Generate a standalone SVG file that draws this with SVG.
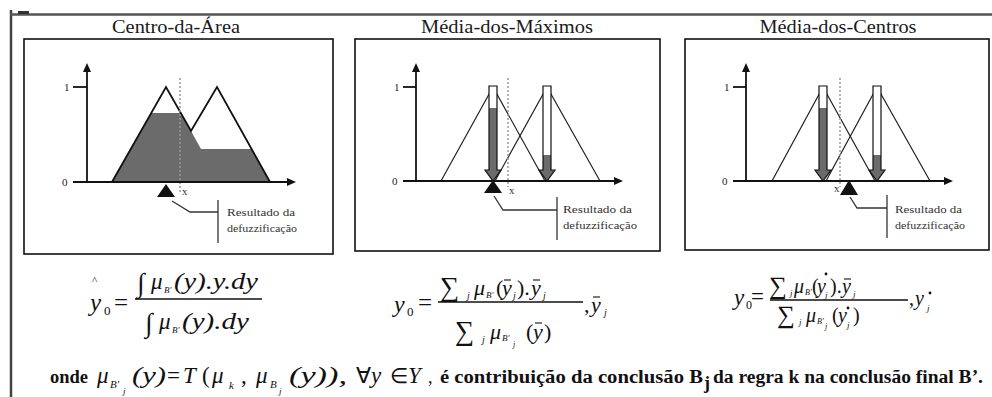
<svg xmlns="http://www.w3.org/2000/svg" width="992" height="397" viewBox="0 0 992 397">
<defs>
<style>
.ttl{font-family:"Liberation Serif","Times New Roman",serif;font-size:19px;fill:#1a1a1a}
.lbl{font-family:"Liberation Serif","Times New Roman",serif;font-size:11px;fill:#222}
.sm{font-family:"Liberation Serif","Times New Roman",serif;font-size:11px;fill:#333}
.m{font-family:"Liberation Serif","Times New Roman",serif;font-style:italic;fill:#111}
.mn{font-family:"Liberation Serif","Times New Roman",serif;fill:#111}
.b{font-family:"Liberation Serif","Times New Roman",serif;font-weight:bold;font-size:18px;fill:#111}
.box{fill:#fff;stroke:#111;stroke-width:1.6}
.ax{stroke:#111;stroke-width:1.8;fill:none}
.tri{stroke:#222;stroke-width:1.2;fill:none}
.tri1{stroke:#111;stroke-width:1.8;fill:none;stroke-linejoin:miter}
.dash{stroke:#9a9a9a;stroke-width:1.5;stroke-dasharray:2 2;fill:none}
.lead{stroke:#333;stroke-width:1.3;fill:none}
.ah{fill:#111}
.gr{fill:#6b6b6b}
.bw{fill:#fff}
.bo{fill:none;stroke:#111;stroke-width:1.2}
.ovl{stroke:#111;stroke-width:1.1}
.frac{stroke:#111;stroke-width:1.5}
</style>
</defs>

<!-- outer frame -->
<g id="frame">
<line x1="11" y1="10" x2="11" y2="397" stroke="#444" stroke-width="2.5"/>
<line x1="10" y1="14.5" x2="992" y2="14.5" stroke="#555" stroke-width="2.5"/>
<rect x="18" y="11" width="11" height="3" fill="#333"/>
</g>

<!-- Panel 1 -->
<g id="panel-centro-area">
<text class="ttl" x="176" y="33" text-anchor="middle" textLength="128" lengthAdjust="spacingAndGlyphs">Centro-da-Área</text>
<rect class="box" x="24" y="39" width="309" height="215"/>
<polygon class="gr" points="112,182 151,113 181,113 201,149 252,149 270,182"/>
<path class="tri1" d="M112,182 L166,87 L191,131 L217,87 L270,182"/>
<line class="dash" x1="180" y1="78" x2="180" y2="192"/>
<line class="ax" x1="87" y1="70" x2="87" y2="182"/>
<polygon class="ah" points="87,63 83,72 91,72"/>
<line class="ax" x1="73" y1="182" x2="288" y2="182"/>
<polygon class="ah" points="296,182 287,178 287,186"/>
<line class="ax" x1="73" y1="87" x2="87" y2="87"/>
<text class="lbl" x="64" y="91">1</text>
<text class="lbl" x="62" y="186">0</text>
<text class="sm" x="182" y="195" font-size="9">x</text>
<polygon class="ah" points="166,184 157,197 175,197"/>
<text class="sm" x="227" y="216" textLength="68" lengthAdjust="spacingAndGlyphs">Resultado da</text>
<text class="sm" x="227" y="232" textLength="70" lengthAdjust="spacingAndGlyphs">defuzzificação</text>
</g>

<!-- Panel 2 -->
<g id="panel-media-maximos">
<text class="ttl" x="507" y="33" text-anchor="middle" textLength="172" lengthAdjust="spacingAndGlyphs">Média-dos-Máximos</text>
<rect class="box" x="355" y="39" width="305" height="212"/>
<path class="tri" d="M441,181 L493,87 L545,181"/>
<path class="tri" d="M495,181 L547,87 L600,181"/>
<line class="dash" x1="508" y1="78" x2="508" y2="187"/>
<rect class="bw" x="489" y="86" width="8" height="22"/>
<path class="gr" d="M489,108 V170 H485 L493,181 L501,170 H497 V108 Z"/>
<path class="bo" d="M489,86 H497 V170 H501 L493,181 L485,170 H489 Z"/>
<rect class="bw" x="543" y="86" width="8" height="69"/>
<path class="gr" d="M543,155 V170 H539 L547,181 L555,170 H551 V155 Z"/>
<path class="bo" d="M543,86 H551 V170 H555 L547,181 L539,170 H543 Z"/>
<line class="ax" x1="416" y1="70" x2="416" y2="181"/>
<polygon class="ah" points="416,63 412,72 420,72"/>
<line class="ax" x1="403" y1="181" x2="615" y2="181"/>
<polygon class="ah" points="623,181 614,177 614,185"/>
<line class="ax" x1="403" y1="87" x2="416" y2="87"/>
<text class="lbl" x="394" y="91">1</text>
<text class="lbl" x="392" y="185">0</text>
<text class="sm" x="509" y="194" font-size="9">x</text>
<polygon class="ah" points="493,180 484,193 502,193"/>
<text class="sm" x="563" y="213" textLength="69" lengthAdjust="spacingAndGlyphs">Resultado da</text>
<text class="sm" x="563" y="229" textLength="74" lengthAdjust="spacingAndGlyphs">defuzzificação</text>
</g>

<!-- Panel 3 -->
<g id="panel-media-centros">
<text class="ttl" x="838" y="33" text-anchor="middle" textLength="157" lengthAdjust="spacingAndGlyphs">Média-dos-Centros</text>
<rect class="box" x="685" y="39" width="304" height="211"/>
<path class="tri" d="M772,181 L823,87 L875,181"/>
<path class="tri" d="M826,181 L877,87 L930,181"/>
<line class="dash" x1="840" y1="78" x2="840" y2="187"/>
<rect class="bw" x="819" y="86" width="8" height="22"/>
<path class="gr" d="M819,108 V170 H815 L823,181 L831,170 H827 V108 Z"/>
<path class="bo" d="M819,86 H827 V170 H831 L823,181 L815,170 H819 Z"/>
<rect class="bw" x="873" y="86" width="8" height="69"/>
<path class="gr" d="M873,155 V170 H869 L877,181 L885,170 H881 V155 Z"/>
<path class="bo" d="M873,86 H881 V170 H885 L877,181 L869,170 H873 Z"/>
<line class="ax" x1="746" y1="70" x2="746" y2="181"/>
<polygon class="ah" points="746,63 742,72 750,72"/>
<line class="ax" x1="733" y1="181" x2="945" y2="181"/>
<polygon class="ah" points="953,181 944,177 944,185"/>
<line class="ax" x1="733" y1="87" x2="746" y2="87"/>
<text class="lbl" x="724" y="91">1</text>
<text class="lbl" x="722" y="185">0</text>
<text class="sm" x="834" y="192" font-size="9">x</text>
<polygon class="ah" points="849,180 840,195 858,195"/>
<text class="sm" x="895" y="213" textLength="67" lengthAdjust="spacingAndGlyphs">Resultado da</text>
<text class="sm" x="895" y="229" textLength="70" lengthAdjust="spacingAndGlyphs">defuzzificação</text>
</g>

<!-- leader connectors -->
<g id="connectors">
<path class="lead" d="M172,201 L190,212 H218"/>
<line class="lead" x1="218" y1="200" x2="218" y2="243"/>
<path class="lead" d="M494,196 L503,210 H557"/>
<line class="lead" x1="557" y1="197" x2="557" y2="240"/>
<path class="lead" d="M850,197 L857,208 H887"/>
<line class="lead" x1="887" y1="195" x2="887" y2="238"/>
</g>

<!-- Formula 1 -->
<g id="formula-centro-area">
<text class="mn" x="92" y="284" font-size="11">^</text>
<text class="m" x="90" y="311" font-size="25">y</text>
<text class="mn" x="104" y="315" font-size="13">0</text>
<text class="mn" x="114" y="311" font-size="25">=</text>
<line class="frac" x1="135" y1="299" x2="262" y2="299"/>
<text class="mn" x="137" y="292" font-size="27">∫</text>
<text class="m" x="151" y="289" font-size="23">μ</text>
<text class="m" x="164" y="293" font-size="9">B'</text>
<text class="m" x="174" y="289" font-size="23" textLength="84" lengthAdjust="spacingAndGlyphs">(y).y.dy</text>
<text class="mn" x="145" y="332" font-size="27">∫</text>
<text class="m" x="159" y="329" font-size="23">μ</text>
<text class="m" x="172" y="333" font-size="9">B'</text>
<text class="m" x="182" y="329" font-size="23" textLength="67" lengthAdjust="spacingAndGlyphs">(y).dy</text>
</g>

<!-- Formula 2 -->
<g id="formula-media-maximos">
<text class="m" x="394" y="312" font-size="24">y</text>
<text class="mn" x="407" y="316" font-size="13">0</text>
<text class="mn" x="418" y="311" font-size="25">=</text>
<line class="frac" x1="438" y1="302" x2="583" y2="302"/>
<text class="mn" x="440" y="296" font-size="27">∑</text>
<text class="m" x="467" y="299" font-size="10">j</text>
<text class="m" x="474" y="295" font-size="22">μ</text>
<text class="m" x="486" y="298" font-size="9">B'</text>
<text class="mn" x="496" y="295" font-size="22">(</text>
<text class="m" x="502" y="295" font-size="22">y</text>
<line class="ovl" x1="504" y1="280" x2="511" y2="280"/>
<text class="m" x="513" y="299" font-size="10">j</text>
<text class="mn" x="517" y="295" font-size="22">).</text>
<text class="m" x="531" y="295" font-size="22">y</text>
<line class="ovl" x1="533" y1="280" x2="540" y2="280"/>
<text class="m" x="543" y="299" font-size="10">j</text>
<text class="mn" x="584" y="312" font-size="22">,</text>
<text class="m" x="591" y="312" font-size="22">y</text>
<line class="ovl" x1="593" y1="297" x2="600" y2="297"/>
<text class="m" x="604" y="316" font-size="10">j</text>
<text class="mn" x="455" y="340" font-size="27">∑</text>
<text class="m" x="482" y="343" font-size="10">j</text>
<text class="m" x="490" y="339" font-size="22">μ</text>
<text class="m" x="502" y="341" font-size="9">B'</text>
<text class="m" x="513" y="347" font-size="8">j</text>
<text class="mn" x="526" y="339" font-size="22">(</text>
<text class="m" x="533" y="339" font-size="22">y</text>
<line class="ovl" x1="535" y1="323" x2="542" y2="323"/>
<text class="mn" x="544" y="339" font-size="22">)</text>
</g>

<!-- Formula 3 -->
<g id="formula-media-centros">
<text class="m" x="734" y="305" font-size="23">y</text>
<text class="mn" x="746" y="309" font-size="12">0</text>
<text class="mn" x="751" y="304" font-size="23">=</text>
<line class="frac" x1="770" y1="300" x2="908" y2="300"/>
<text class="mn" x="769" y="294" font-size="25">∑</text>
<text class="m" x="790" y="296" font-size="9">j</text>
<text class="m" x="794" y="293" font-size="20">μ</text>
<text class="m" x="805" y="295" font-size="8">B'</text>
<text class="mn" x="812" y="293" font-size="20">(</text>
<text class="m" x="817" y="293" font-size="20">y</text>
<circle cx="826" cy="274" r="1.4" fill="#111"/>
<text class="m" x="825" y="298" font-size="9">j</text>
<text class="mn" x="830" y="293" font-size="20">).</text>
<text class="m" x="842" y="293" font-size="20">y</text>
<line class="ovl" x1="844" y1="279" x2="851" y2="279"/>
<text class="m" x="853" y="297" font-size="9">j</text>
<text class="mn" x="777" y="323" font-size="25">∑</text>
<text class="m" x="799" y="325" font-size="9">j</text>
<text class="m" x="806" y="322" font-size="20">μ</text>
<text class="m" x="817" y="324" font-size="8">B'</text>
<text class="m" x="825" y="329" font-size="8">j</text>
<text class="mn" x="832" y="322" font-size="20">(</text>
<text class="m" x="838" y="322" font-size="20">y</text>
<circle cx="848" cy="308" r="1.4" fill="#111"/>
<text class="m" x="847" y="328" font-size="9">j</text>
<text class="mn" x="853" y="322" font-size="20">)</text>
<text class="mn" x="909" y="305" font-size="20">,</text>
<text class="m" x="915" y="305" font-size="20">y</text>
<circle cx="930" cy="293" r="1.4" fill="#111"/>
<text class="m" x="927" y="311" font-size="9">j</text>
</g>

<!-- bottom line -->
<g id="caption">
<text class="b" x="50" y="383" textLength="38" lengthAdjust="spacingAndGlyphs">onde</text>
<text class="m" x="97" y="383" font-size="23">μ</text>
<text class="m" x="110" y="388" font-size="11">B'</text>
<text class="m" x="123" y="394" font-size="9">j</text>
<text class="m" x="132" y="383" font-size="23" textLength="34" lengthAdjust="spacingAndGlyphs">(y)</text>
<text class="mn" x="167" y="383" font-size="23">=</text>
<text class="m" x="183" y="383" font-size="23">T</text>
<text class="mn" x="202" y="383" font-size="23">(</text>
<text class="m" x="212" y="383" font-size="23">μ</text>
<text class="m" x="229" y="389" font-size="11">k</text>
<text class="mn" x="241" y="383" font-size="23">,</text>
<text class="m" x="256" y="383" font-size="23">μ</text>
<text class="m" x="270" y="388" font-size="11">B</text>
<text class="m" x="279" y="394" font-size="9">j</text>
<text class="m" x="289" y="383" font-size="23" textLength="58" lengthAdjust="spacingAndGlyphs">(y)),</text>
<text class="mn" x="356" y="383" font-size="22">∀</text>
<text class="m" x="371" y="383" font-size="23">y</text>
<text class="mn" x="390" y="383" font-size="21">∈</text>
<text class="m" x="408" y="383" font-size="23">Y</text>
<text class="mn" x="428" y="383" font-size="18">,</text>
<text class="b" x="440" y="383" textLength="263" lengthAdjust="spacingAndGlyphs">é contribuição da conclusão B</text>
<text class="b" x="704" y="389" font-size="11">j</text>
<text class="b" x="713" y="383" textLength="270" lengthAdjust="spacingAndGlyphs">da regra k na conclusão final B’.</text>
</g>
</svg>
